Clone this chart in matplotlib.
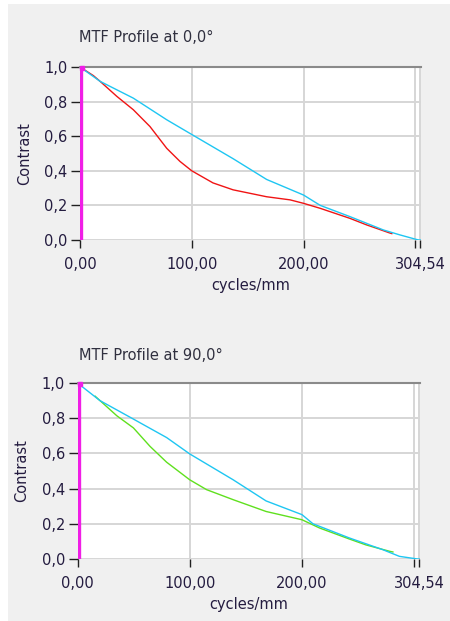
import numpy as np
import matplotlib.pyplot as plt
from matplotlib.patches import Rectangle

plt.rcParams['font.family'] = ['DejaVu Sans']

# ==================== data ====================
X_MAX = 304.54

# MTF at 0,0 deg
freq_ref0 = [0, 18, 47.7, 77.6, 100, 137, 167, 200, 215, 241.6, 271.5, 286, 302.8, 304.5]
mtf_ref0 = [1.0, 0.917, 0.82, 0.695, 0.61, 0.47, 0.35, 0.26, 0.20, 0.135, 0.058, 0.03, 0.0, 0.0]
freq_tan0 = [0, 12, 18, 33, 47.7, 62.6, 77.6, 89.5, 100, 119, 137, 167, 188, 200, 215, 241.6, 256.6, 277.4, 279]
mtf_tan0 = [1.0, 0.95, 0.917, 0.83, 0.753, 0.656, 0.53, 0.454, 0.40, 0.33, 0.29, 0.25, 0.232, 0.212, 0.183, 0.125, 0.087, 0.04, 0.037]

# MTF at 90,0 deg
freq_ref90 = [0, 20, 49.8, 79.4, 100, 138.7, 168, 200, 209.8, 242, 272, 286.8, 303, 304.5]
mtf_ref90 = [1.0, 0.90, 0.795, 0.69, 0.597, 0.45, 0.33, 0.252, 0.20, 0.12, 0.053, 0.015, 0.0, 0.0]
freq_sag90 = [15.7, 35, 49.8, 64.6, 79.4, 100, 115, 138.7, 168, 200, 215.7, 242, 257, 278, 281]
mtf_sag90 = [0.925, 0.814, 0.745, 0.64, 0.55, 0.45, 0.394, 0.337, 0.27, 0.223, 0.176, 0.114, 0.08, 0.044, 0.04]

x_ticks = [0, 100, 200, 300, X_MAX]
x_tick_labels = ['0,00', '100,00', '200,00', '', '304,54']
y_ticks = [0.0, 0.2, 0.4, 0.6, 0.8, 1.0]
y_tick_labels = ['0,0', '0,2', '0,4', '0,6', '0,8', '1,0']

panels = [
    ('MTF Profile at 0,0°', freq_ref0, mtf_ref0, freq_tan0, mtf_tan0, '#f01414',
     [80 / 450, 381 / 621, 341 / 450, 173 / 621], 38),
    ('MTF Profile at 90,0°', freq_ref90, mtf_ref90, freq_sag90, mtf_sag90, '#5fe01e',
     [77.5 / 450, 62 / 621, 342.5 / 450, 176 / 621], 355),
]

BLUE = '#1ec6f2'
MAGENTA = '#f01ee6'
TXT = '#241c40'

fig = plt.figure(figsize=(4.5, 6.21), dpi=100, facecolor='white')
# grey panel behind everything
fig.patches.append(Rectangle((8 / 450, 0), 1, 1 - 4 / 621, transform=fig.transFigure,
                             facecolor='#f0f0f0', edgecolor='none', zorder=-10))

for title, fx_ref, my_ref, fx_m, my_m, col, rect, title_y in panels:
    ax = fig.add_axes(rect)
    ax.set_facecolor('white')
    ax.set_xlim(0, X_MAX + 0.6)
    ax.set_ylim(0, 1.0)

    ax.grid(True, color='#d6d6d6', linewidth=1.4)
    ax.set_axisbelow(True)

    ax.plot(fx_m, my_m, color=col, linewidth=1.0, zorder=3)
    ax.plot(fx_ref, my_ref, color=BLUE, linewidth=1.0, zorder=4)

    # cursor line at zero frequency
    ax.axvline(1.2, color=MAGENTA, linewidth=2.4, zorder=5)
    ax.plot([1.8], [0.992], marker='s', markersize=3.5, color=MAGENTA, zorder=6, clip_on=False)

    for s in ['right', 'bottom', 'left']:
        ax.spines[s].set_visible(False)
    ax.spines['top'].set_color('#8a8a8a')
    ax.spines['top'].set_linewidth(1.5)

    ax.set_xticks(x_ticks)
    ax.set_xticklabels(x_tick_labels)
    ax.set_yticks(y_ticks)
    ax.set_yticklabels(y_tick_labels)
    ax.tick_params(axis='x', direction='out', length=5.5, width=1, color='#202020',
                   labelsize=10.5, labelcolor=TXT, pad=7)
    ax.tick_params(axis='y', direction='out', length=6.5, width=1, color='#202020',
                   labelsize=10.5, labelcolor=TXT, pad=2.5)
    ax.set_xlabel('cycles/mm', fontsize=10.5, color=TXT, labelpad=4)
    ax.set_ylabel('Contrast', fontsize=10.5, color=TXT, labelpad=9)

    fig.text(79 / 450, 1 - title_y / 621, title, fontsize=10.5, color='#30303f',
             ha='left', va='center')

plt.savefig('out.png', dpi=100, facecolor=fig.get_facecolor())
